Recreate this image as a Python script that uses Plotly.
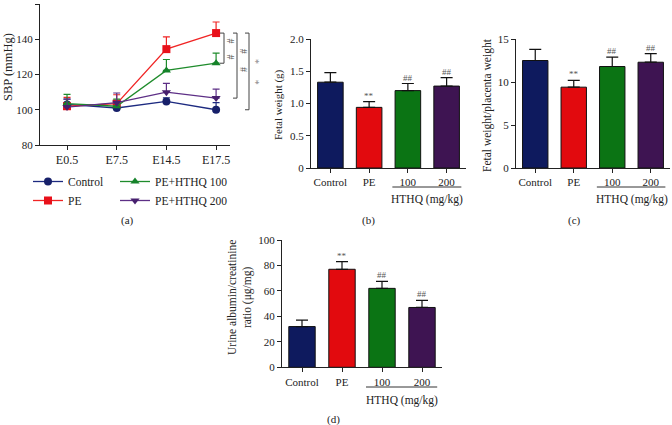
import plotly.graph_objects as go

W, H = 672, 425
FONT = "Liberation Serif, Times New Roman, serif"

# ---------------- data ----------------
days = ["E0.5", "E7.5", "E14.5", "E17.5"]
sbp_control = [103, 101, 104.7, 100]
sbp_control_err = [3, 1.5, 2, 4]
sbp_pe = [102, 103.5, 134.4, 143.5]
sbp_pe_err = [5, 5, 7, 6.3]
sbp_100 = [103.5, 102, 122.3, 126.4]
sbp_100_err = [5.2, 4, 6.2, 5.7]
sbp_200 = [101.5, 104, 110, 106.6]
sbp_200_err = [4.5, 5.5, 5, 5.1]

groups = ["Control", "PE", "100", "200"]
fetal_weight = [1.33, 0.94, 1.20, 1.27]
fetal_weight_err = [0.15, 0.09, 0.11, 0.13]
fetal_placenta = [12.5, 9.4, 11.8, 12.3]
fetal_placenta_err = [1.3, 0.8, 1.1, 1.0]
urine_ratio = [32, 77, 62, 47]
urine_ratio_err = [5, 6, 5.5, 5.5]
bar_marks = ["", "**", "##", "##"]

line_colors = {"Control": "#1d2a80", "PE": "#f02424", "PE+HTHQ 100": "#1f8c2c", "PE+HTHQ 200": "#5d2f86"}
marker_colors = {"Control": "#17206a", "PE": "#e8101a", "PE+HTHQ 100": "#15822a", "PE+HTHQ 200": "#47206e"}
symbols = {"Control": "circle", "PE": "square", "PE+HTHQ 100": "triangle-up", "PE+HTHQ 200": "triangle-down"}
bar_colors = ["#0e1a5e", "#e20a0e", "#0b7414", "#3e1452"]


def px(x):
    return x / W


def py(y):
    return 1 - y / H


fig = go.Figure()

# ---------------- panel (a) ----------------
series = [("Control", sbp_control, sbp_control_err, "legend"),
          ("PE", sbp_pe, sbp_pe_err, "legend"),
          ("PE+HTHQ 100", sbp_100, sbp_100_err, "legend2"),
          ("PE+HTHQ 200", sbp_200, sbp_200_err, "legend2")]
for name, vals, errs, lg in series:
    fig.add_trace(go.Scatter(
        x=days, y=vals, name=name, mode="lines+markers",
        line=dict(color=line_colors[name], width=1.3),
        marker=dict(symbol=symbols[name], size=8, color=marker_colors[name]),
        error_y=dict(type="data", array=errs, arrayminus=[0] * len(errs), symmetric=False,
                     color=line_colors[name], thickness=1.2, width=3.5),
        xaxis="x", yaxis="y", legend=lg, cliponaxis=False,
    ))

axis_common = dict(showline=True, linecolor="#222", linewidth=1, ticks="outside",
                   ticklen=4, tickcolor="#222", tickwidth=1, showgrid=False, zeroline=False,
                   automargin=False,
                   tickfont=dict(family=FONT, size=11, color="#222"))

legend_font = dict(family=FONT, size=11.5, color="#222")
layout = dict(
    width=W, height=H, margin=dict(l=0, r=0, t=0, b=0, autoexpand=False),
    paper_bgcolor="white", plot_bgcolor="white",
    font=dict(family=FONT, size=11, color="#222"),
    xaxis=dict(domain=[px(40), px(230)], range=[-0.544, 3.28], type="category",
               **{**axis_common, "tickfont": dict(family=FONT, size=12, color="#222")}),
    yaxis=dict(domain=[py(145), py(4)], range=[80, 160], dtick=20, **axis_common),
    legend=dict(x=px(28), y=py(167), xanchor="left", yanchor="top", orientation="v",
                font=legend_font, bgcolor="rgba(0,0,0,0)", tracegroupgap=0),
    legend2=dict(x=px(115), y=py(167), xanchor="left", yanchor="top", orientation="v",
                 font=legend_font, bgcolor="rgba(0,0,0,0)", tracegroupgap=0),
)

# ---------------- bar panels ----------------
bar_panels = [
    ("x2", "y2", fetal_weight, fetal_weight_err, [311, 466], [39, 168], [0, 2.0], 0.5, True),
    ("x3", "y3", fetal_placenta, fetal_placenta_err, [516, 670], [39, 168], [0, 15], 5, False),
    ("x4", "y4", urine_ratio, urine_ratio_err, [282, 442], [240, 367.3], [0, 100], 20, False),
]
for xa, ya, vals, errs, xdom, ydom, yr, dt, fmt in bar_panels:
    fig.add_trace(go.Bar(
        x=groups, y=vals, width=0.66, showlegend=False,
        marker=dict(color=bar_colors, line=dict(color="#111", width=1)),
        error_y=dict(type="data", array=errs, arrayminus=[0] * len(errs), symmetric=False,
                     color="#111", thickness=1.2, width=6),
        xaxis=xa, yaxis=ya,
    ))
    kx = "xaxis" + xa[1:]
    ky = "yaxis" + ya[1:]
    layout[kx] = dict(domain=[px(xdom[0]), px(xdom[1])], range=[-0.5, 3.5], type="category",
                      anchor=ya, **axis_common)
    yd = dict(domain=[py(ydom[1]), py(ydom[0])], range=yr, dtick=dt, anchor=xa, **axis_common)
    if fmt:
        yd["tickvals"] = [0, 0.5, 1.0, 1.5, 2.0]
        yd["ticktext"] = ["0", "0.5", "1.0", "1.5", "2.0"]
    layout[ky] = yd

fig.update_layout(**layout)

ann = []
shapes = []

# significance marks above bars (category index positions)
for xa, ya, vals, errs, xdom, ydom, yr, dt, fmt in bar_panels:
    for i, (v, e, m) in enumerate(zip(vals, errs, bar_marks)):
        if m:
            ann.append(dict(x=i, y=v + e, xref=xa, yref=ya, text=m, showarrow=False,
                            xanchor="center", yanchor="bottom", yshift=-1,
                            font=dict(family=FONT, size=9, color="#555")))
    # HTHQ group line and label
    line_y = 187 if ydom[1] < 200 else 387
    lab_y = 199 if ydom[1] < 200 else 400
    shapes.append(dict(type="line", xref=xa, yref="paper", x0=1.6, x1=3.38,
                       y0=py(line_y), y1=py(line_y), line=dict(color="#333", width=1)))
    ann.append(dict(x=2.5, y=py(lab_y), xref=xa, yref="paper", text="HTHQ (mg/kg)",
                    xanchor="center", yanchor="middle",
                    showarrow=False, font=dict(family=FONT, size=11.5, color="#222")))

# y-axis titles
titles = [("SBP (mmHg)", 8, 67, 12.5),
          ("Fetal weight (g)", 278, 105, 11),
          ("Fetal weight/placenta weight", 487, 105, 11.5),
          ("Urine albumin/creatinine<br>ratio (μg/mg)", 240, 298, 11.5)]
for t, x, y, s in titles:
    ann.append(dict(x=px(x), y=py(y), xref="paper", yref="paper", text=t, textangle=-90,
                    xanchor="center", yanchor="middle",
                    showarrow=False, font=dict(family=FONT, size=s, color="#222")))

# captions
for t, x, y in [("(a)", 127, 220), ("(b)", 368, 220), ("(c)", 574, 220), ("(d)", 333, 419)]:
    ann.append(dict(x=px(x), y=py(y), xref="paper", yref="paper", text=t, showarrow=False,
                    xanchor="center", yanchor="middle",
                    font=dict(family=FONT, size=11, color="#222")))

# significance brackets in (a)
top = sbp_pe[3]
brackets = [(sbp_100[3], 224, "#", [0.74, 0.21], "#555"),
            (sbp_200[3], 237, "#", [0.72, 0.44], "#555"),
            (sbp_control[3], 249, "*", [0.63, 0.36], "#888")]
for bottom, bx, sym, fr, col in brackets:
    shapes.append(dict(type="line", xref="paper", yref="y", x0=px(bx), x1=px(bx), y0=bottom, y1=top,
                       line=dict(color="#444", width=1)))
    for yy in (bottom, top):
        shapes.append(dict(type="line", xref="paper", yref="y", x0=px(bx - 4), x1=px(bx), y0=yy, y1=yy,
                           line=dict(color="#444", width=1)))
    for f in fr:
        ann.append(dict(x=px(bx + 6.5), y=bottom + f * (top - bottom), xref="paper", yref="y",
                        text=sym, showarrow=False, textangle=90,
                        xanchor="center", yanchor="middle",
                        font=dict(family=FONT, size=10, color=col)))

fig.update_layout(annotations=ann, shapes=shapes)
fig.write_html("out.html", config={"displayModeBar": False},
               post_script="document.body.style.margin='0px';document.body.style.overflow='hidden';")
